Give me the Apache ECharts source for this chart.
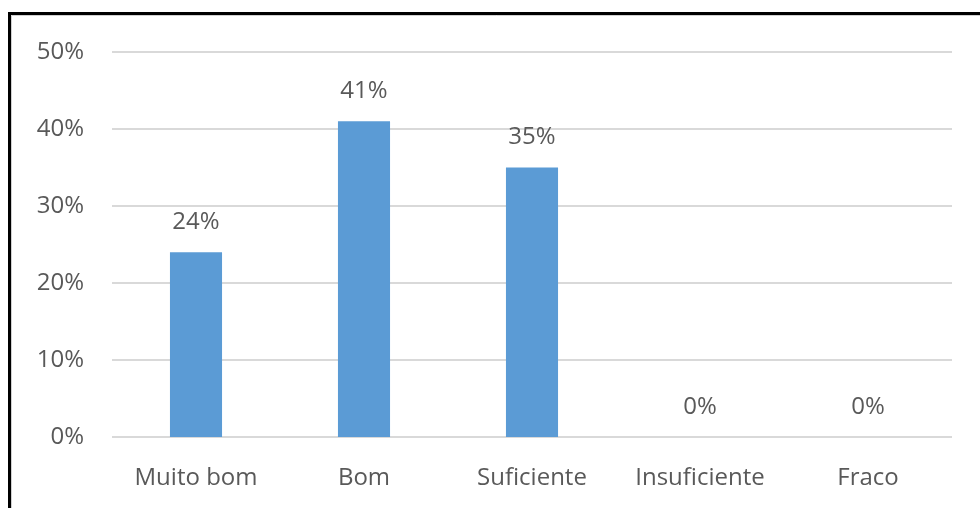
<!DOCTYPE html>
<html>
<head>
<meta charset="utf-8">
<script src="https://cdn.jsdelivr.net/npm/echarts@6/dist/echarts.min.js"></script>
<style>
  html, body { margin: 0; padding: 0; background: #ffffff; }
  #chart { width: 980px; height: 508px; }
</style>
</head>
<body>
<div id="chart"></div>
<script>
// Avaliação: distribuição das respostas por categoria
const categories = ['Muito bom', 'Bom', 'Suficiente', 'Insuficiente', 'Fraco'];
const percentages = [24, 41, 35, 0, 0];
const yTicks = { min: 0, max: 50, interval: 10 };

const textColor = '#595959';
const fontFamily = '"Open Sans", "Noto Sans", sans-serif';

const chart = echarts.init(document.getElementById('chart'), null, { renderer: 'canvas' });

chart.setOption({
  backgroundColor: '#ffffff',
  animation: false,
  graphic: [
    {
      type: 'rect',
      shape: { x: 9.5, y: 13.5, width: 1200, height: 800 },
      style: { fill: 'none', stroke: '#000000', lineWidth: 3 },
      z: 10
    },
    {
      type: 'rect',
      shape: { x: 11.5, y: 15.5, width: 1200, height: 800 },
      style: { fill: 'none', stroke: '#d0d0d0', lineWidth: 1 },
      z: 9
    }
  ],
  grid: { left: 112, right: 28, top: 52, bottom: 71, containLabel: false },
  xAxis: {
    type: 'category',
    data: categories,
    axisLine: { show: false },
    axisTick: { show: false },
    axisLabel: {
      interval: 0,
      color: textColor,
      fontSize: 24,
      fontFamily: fontFamily,
      margin: 29
    }
  },
  yAxis: {
    type: 'value',
    min: yTicks.min,
    max: yTicks.max,
    interval: yTicks.interval,
    axisLine: { show: false },
    axisTick: { show: false },
    axisLabel: {
      formatter: '{value}%',
      color: textColor,
      fontSize: 24,
      fontFamily: fontFamily,
      margin: 28
    },
    splitLine: { lineStyle: { color: '#d9d9d9', width: 2 } }
  },
  series: [
    {
      type: 'bar',
      data: percentages,
      barWidth: '31%',
      itemStyle: { color: '#5b9bd5' },
      label: {
        show: true,
        position: 'top',
        distance: 18,
        formatter: '{c}%',
        color: textColor,
        fontSize: 24,
        fontFamily: fontFamily
      }
    }
  ]
});
</script>
</body>
</html>
